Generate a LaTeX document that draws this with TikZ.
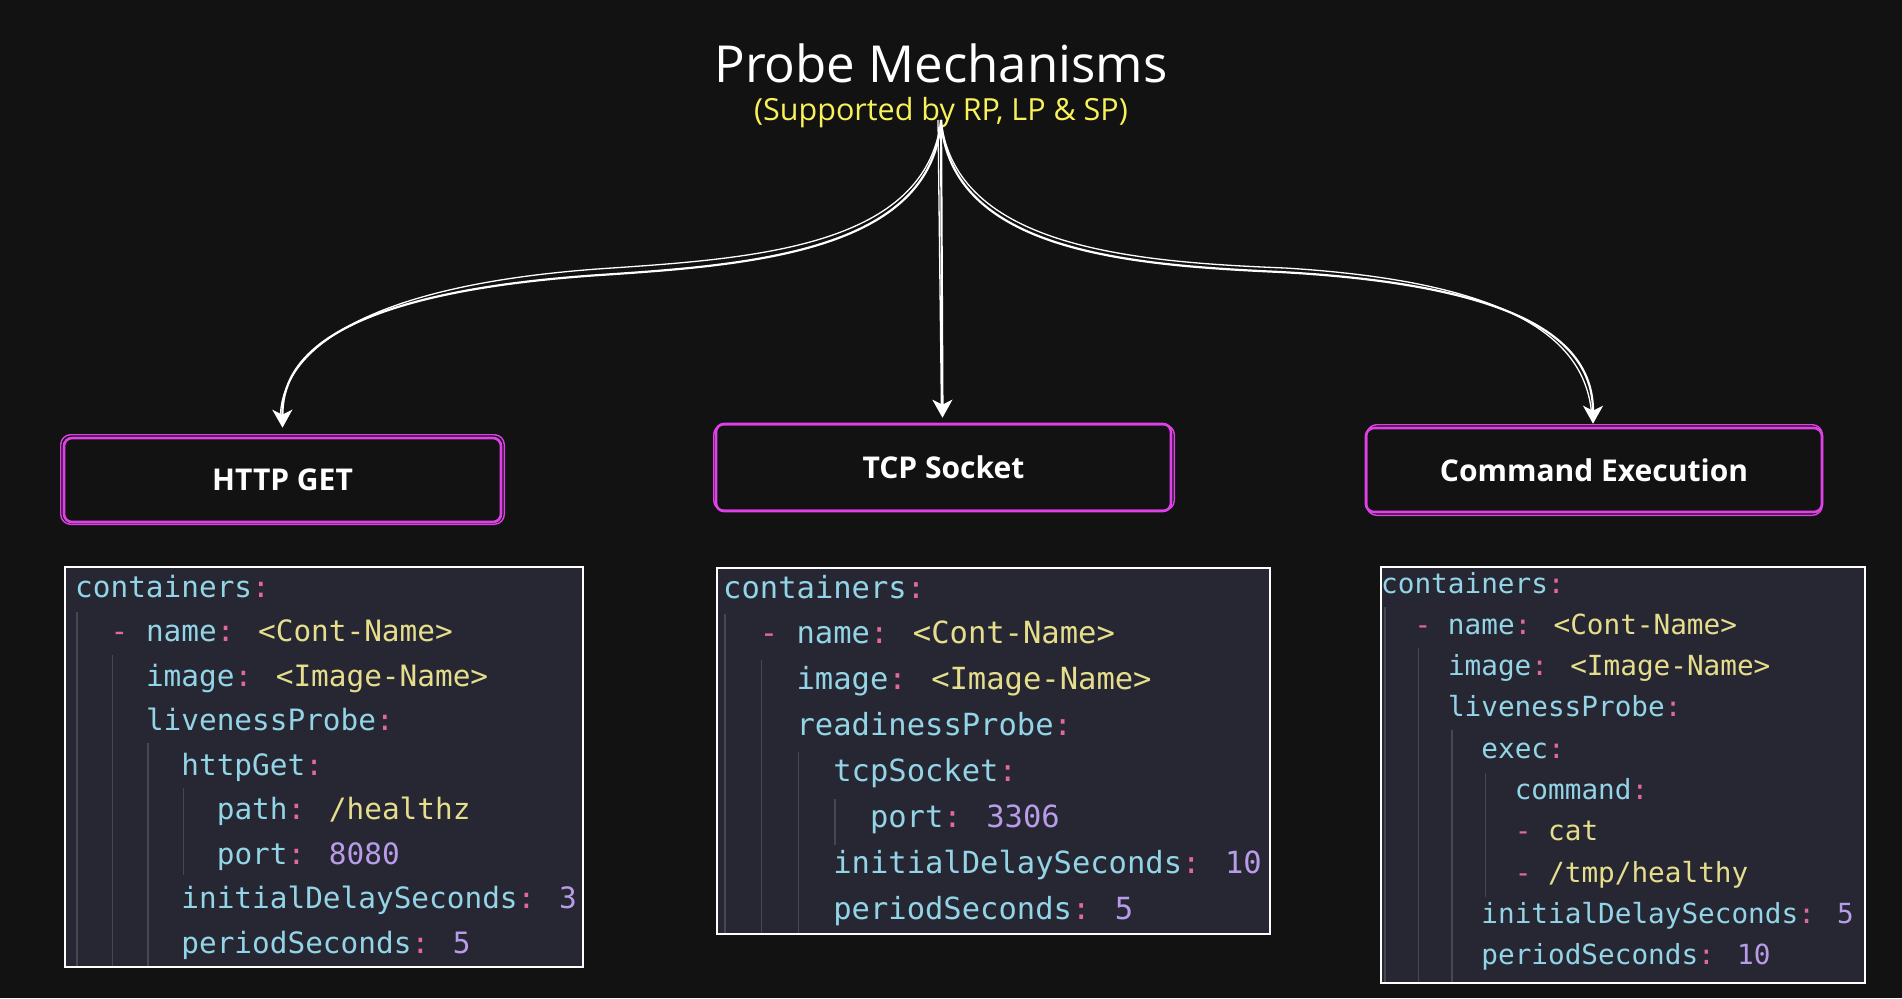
\documentclass[tikz,border=0pt]{standalone}
\usepackage{fontspec}
\setmainfont{Open Sans}
\newfontfamily\codefont{DejaVu Sans Mono}
\usetikzlibrary{arrows.meta}
\definecolor{bgc}{HTML}{121212}
\definecolor{codebg}{HTML}{262733}
\definecolor{ckey}{HTML}{93D4E6}
\definecolor{ccol}{HTML}{E2689E}
\definecolor{cval}{HTML}{E6DE8C}
\definecolor{cnum}{HTML}{B99CE8}
\definecolor{cguide}{HTML}{46474F}
\definecolor{pmag}{HTML}{E040E8}
\definecolor{subyel}{HTML}{F8F15A}
\newcommand\ykey[1]{\textcolor{ckey}{#1}}
\newcommand\ycol{\textcolor{ccol}{:}}
\newcommand\yval[1]{\textcolor{cval}{#1}}
\newcommand\ynum[1]{\textcolor{cnum}{#1}}
\newcommand\ydash{\textcolor{ccol}{-}}
\newcommand\cl[4]{\node[codeline] (#1) at ({\xo+#2*\cw},{\yo+#3*\ls}) {#4};}
\newcommand\gl[4]{\draw[guide] ({\xg+#1*\cw},#2) -- ({\xg+#1*\cw},#3);}
\tikzset{
  codeline/.style={anchor=base west, inner sep=0pt, text=ckey},
  guide/.style={draw=cguide, line width=1.4pt},
  codebox/.style={draw=white, line width=2.4pt, fill=codebg, anchor=north west, inner sep=0pt},
  probebox/.style={draw=pmag, line width=2.6pt, rounded corners=8pt, fill=bgc, text=white,
    font=\bfseries\fontsize{30}{36}\selectfont, minimum height=86pt, inner sep=0pt},
  sketch/.style={draw=pmag, line width=1.4pt, rounded corners=10pt},
  arr/.style={draw=white, line width=2.2pt, -{Stealth[length=18pt,width=20pt,inset=5pt]}},
  arrthin/.style={draw=white, line width=1.3pt},
}
\begin{document}
\begin{tikzpicture}[x=1pt,y=-1pt]
\fill[bgc] (0,0) rectangle (1902,998);
\useasboundingbox (0,0) rectangle (1902,998);

% title
\node[anchor=base, text=white, font=\fontsize{51}{60}\selectfont, inner sep=0pt] (title) at (941,82) {Probe Mechanisms};
\node[anchor=base, text=subyel, font=\fontsize{30.5}{36}\selectfont, inner sep=0pt] (sub) at (941,120) {(Supported by RP, LP \& SP)};
\coordinate (src) at (941,120);

% probe boxes
\node[probebox, minimum width=437pt, minimum height=84pt] (http) at (282.5,480) {HTTP GET};
\node[probebox, minimum width=455pt, minimum height=87pt] (tcp) at (943.5,467.5) {TCP Socket};
\node[probebox, minimum width=456pt, minimum height=84pt] (cmd) at (1594,470) {Command Execution};
\draw[sketch] ([xshift=-2pt,yshift=2pt]http.north west) rectangle ([xshift=2pt,yshift=-1pt]http.south east);
\draw[sketch] ([xshift=-1pt,yshift=-2pt]tcp.north west) rectangle ([xshift=2pt,yshift=2pt]tcp.south east);
\draw[sketch] ([xshift=2pt,yshift=2pt]cmd.north west) rectangle ([xshift=-1pt,yshift=-2pt]cmd.south east);

% connectors
\draw[arrthin] (src) .. controls (926,245) and (760,258) .. (612,268) .. controls (345,285) and (277,360) .. ([xshift=-2pt,yshift=14pt]http.north);
\draw[arr] (src) .. controls (932,252) and (750,265) .. (600,275) .. controls (330,293) and (282,360) .. ([yshift=9pt]http.north);
\draw[arrthin] ([xshift=-3pt]src) -- ([xshift=-2pt,yshift=8pt]tcp.north);
\draw[arr] (src) -- ([xshift=-1pt,yshift=5pt]tcp.north);
\draw[arrthin] (src) .. controls (955,248) and (1135,262) .. (1285,268) .. controls (1515,282) and (1588,340) .. ([xshift=-2pt,yshift=8pt]cmd.north);
\draw[arr] (src) .. controls (950,252) and (1130,265) .. (1280,272) .. controls (1520,285) and (1593,340) .. ([xshift=-1pt,yshift=3pt]cmd.north);

% code block 1
\node[codebox, minimum width=518pt, minimum height=400pt] (code1) at (64,566) {};
\begin{scope}[font=\codefont\fontsize{29.4}{35}\selectfont]
\def\xo{75}\def\xg{77}\def\cw{17.7}\def\yo{597}\def\ls{44.5}
\gl{0}{612}{966}{}
\gl{2}{655}{966}{}
\gl{4}{743}{966}{}
\gl{6}{788}{875}{}
\cl{a0}{0}{0}{\ykey{containers}\ycol}
\cl{a1}{2}{1}{\ydash{} \ykey{name}\ycol{} \yval{<Cont-Name>}}
\cl{a2}{4}{2}{\ykey{image}\ycol{} \yval{<Image-Name>}}
\cl{a3}{4}{3}{\ykey{livenessProbe}\ycol}
\cl{a4}{6}{4}{\ykey{httpGet}\ycol}
\cl{a5}{8}{5}{\ykey{path}\ycol{} \yval{/healthz}}
\cl{a6}{8}{6}{\ykey{port}\ycol{} \ynum{8080}}
\cl{a7}{6}{7}{\ykey{initialDelaySeconds}\ycol{} \ynum{3}}
\cl{a8}{6}{8}{\ykey{periodSeconds}\ycol{} \ynum{5}}
\end{scope}

% code block 2
\node[codebox, minimum width=553pt, minimum height=366pt] (code2) at (716,567) {};
\begin{scope}[font=\codefont\fontsize{30.5}{36}\selectfont]
\def\xo{723}\def\xg{725}\def\cw{18.35}\def\yo{598}\def\ls{45.9}
\gl{0}{614}{933}{}
\gl{2}{660}{933}{}
\gl{4}{752}{933}{}
\gl{6}{799}{845}{}
\cl{b0}{0}{0}{\ykey{containers}\ycol}
\cl{b1}{2}{1}{\ydash{} \ykey{name}\ycol{} \yval{<Cont-Name>}}
\cl{b2}{4}{2}{\ykey{image}\ycol{} \yval{<Image-Name>}}
\cl{b3}{4}{3}{\ykey{readinessProbe}\ycol}
\cl{b4}{6}{4}{\ykey{tcpSocket}\ycol}
\cl{b5}{8}{5}{\ykey{port}\ycol{} \ynum{3306}}
\cl{b6}{6}{6}{\ykey{initialDelaySeconds}\ycol{} \ynum{10}}
\cl{b7}{6}{7}{\ykey{periodSeconds}\ycol{} \ynum{5}}
\end{scope}

% code block 3
\node[codebox, minimum width=484pt, minimum height=416pt] (code3) at (1380,566) {};
\begin{scope}[font=\codefont\fontsize{27.7}{33}\selectfont]
\def\xo{1381}\def\xg{1385}\def\cw{16.7}\def\yo{593}\def\ls{41.3}
\gl{0}{607}{982}{}
\gl{2}{648}{982}{}
\gl{4}{730}{982}{}
\gl{6}{773}{897}{}
\cl{c0}{0}{0}{\ykey{containers}\ycol}
\cl{c1}{2}{1}{\ydash{} \ykey{name}\ycol{} \yval{<Cont-Name>}}
\cl{c2}{4}{2}{\ykey{image}\ycol{} \yval{<Image-Name>}}
\cl{c3}{4}{3}{\ykey{livenessProbe}\ycol}
\cl{c4}{6}{4}{\ykey{exec}\ycol}
\cl{c5}{8}{5}{\ykey{command}\ycol}
\cl{c6}{8}{6}{\ydash{} \yval{cat}}
\cl{c7}{8}{7}{\ydash{} \yval{/tmp/healthy}}
\cl{c8}{6}{8}{\ykey{initialDelaySeconds}\ycol{} \ynum{5}}
\cl{c9}{6}{9}{\ykey{periodSeconds}\ycol{} \ynum{10}}
\end{scope}
\end{tikzpicture}
\end{document}
